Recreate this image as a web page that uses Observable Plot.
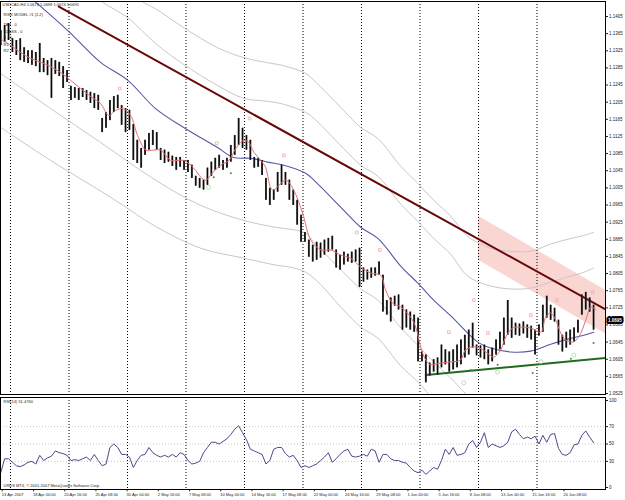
<!DOCTYPE html>
<html><head><meta charset="utf-8">
<script src="https://cdn.jsdelivr.net/npm/d3@7"></script>
<script src="https://cdn.jsdelivr.net/npm/@observablehq/plot@0.6"></script>
<style>
body{margin:0;background:#fff;}
#wrap{position:relative;width:625px;height:500px;overflow:hidden;background:#fff;}
#wrap svg{position:absolute;left:0;}
</style></head><body><div id="wrap"></div>
<script>
// ---------- data (bar index = one 8-hour step, 15 per week) ----------
const headerLine = "USDCAD,H4 1.0674 1.0698 1.0674 1.0695";
const modelLine = "RISK MODEL #1 (1,2)";
const legendLines = ["TAB - 0", "CLASS - 0", "S - 0", "R1 -", "R2 -"];
const rsiLabel = "RSI(14) 51.4760";
const copyright = "URDS MT4, \u00a9 2001-2007 MetaQuotes Software Corp.";
const lastClose = 1.0695;

const barHigh = [
1.1372,1.1384,1.1388,1.1353,1.1349,1.1353,1.1332,1.1325,1.1325,1.1321,
1.1342,1.1307,1.1302,1.1307,1.1302,1.1298,1.1288,1.1279,1.1242,1.1239,
1.1237,1.1237,1.1232,1.1228,1.1225,1.1221,1.1167,1.1181,1.1209,1.1218,
1.1221,1.1197,1.1190,1.1186,1.1153,1.1116,1.1097,1.1116,1.1132,1.1139,
1.1134,1.1097,1.1093,1.1088,1.1079,1.1076,1.1076,1.1069,1.1069,1.1058,
1.1032,1.1027,1.1023,1.1051,1.1065,1.1074,1.1081,1.1069,1.1074,1.1104,
1.1127,1.1167,1.1144,1.1127,1.1116,1.1076,1.1074,1.1069,1.1027,1.1004,
1.1000,1.1041,1.1058,1.1041,1.1023,1.1000,1.0976,1.0941,1.0901,1.0883,
1.0871,1.0878,1.0876,1.0883,1.0887,1.0892,1.0860,1.0848,1.0855,1.0850,
1.0855,1.0860,1.0864,1.0818,1.0813,1.0818,1.0818,1.0832,1.0801,1.0742,
1.0748,1.0752,1.0755,1.0731,1.0720,1.0715,1.0708,1.0701,1.0622,1.0615,
1.0596,1.0604,1.0608,1.0638,1.0627,1.0622,1.0627,1.0638,1.0650,1.0661,
1.0673,1.0689,1.0638,1.0636,1.0638,1.0627,1.0631,1.0650,1.0668,1.0701,
1.0742,1.0701,1.0689,1.0687,1.0692,1.0685,1.0682,1.0673,1.0685,1.0731,
1.0752,1.0731,1.0724,1.0696,1.0661,1.0668,1.0673,1.0678,1.0696,1.0755,
1.0761,1.0748,1.0731];
const barLow = [
1.1337,1.1344,1.1349,1.1321,1.1314,1.1302,1.1298,1.1295,1.1291,1.1288,
1.1274,1.1274,1.1267,1.1214,1.1270,1.1265,1.1237,1.1251,1.1209,1.1214,
1.1209,1.1216,1.1209,1.1202,1.1190,1.1186,1.1134,1.1144,1.1162,1.1181,
1.1190,1.1151,1.1134,1.1139,1.1069,1.1062,1.1051,1.1081,1.1093,1.1104,
1.1093,1.1069,1.1062,1.1065,1.1055,1.1046,1.1053,1.1046,1.1041,1.1027,
1.1009,1.1004,1.1000,1.1011,1.1032,1.1046,1.1051,1.1046,1.1051,1.1065,
1.1081,1.1104,1.1097,1.1093,1.1069,1.1051,1.1053,1.1034,1.0976,1.0964,
1.0976,1.0995,1.1011,1.1011,1.0976,1.0964,1.0918,1.0878,1.0878,1.0843,
1.0832,1.0836,1.0841,1.0848,1.0855,1.0860,1.0818,1.0813,1.0825,1.0832,
1.0829,1.0832,1.0773,1.0785,1.0790,1.0794,1.0799,1.0801,1.0715,1.0708,
1.0692,1.0729,1.0720,1.0673,1.0678,1.0673,1.0668,1.0599,1.0599,1.0550,
1.0566,1.0575,1.0568,1.0585,1.0592,1.0575,1.0580,1.0585,1.0592,1.0608,
1.0615,1.0631,1.0613,1.0608,1.0604,1.0592,1.0599,1.0615,1.0627,1.0638,
1.0661,1.0654,1.0661,1.0659,1.0664,1.0654,1.0650,1.0615,1.0659,1.0668,
1.0701,1.0696,1.0692,1.0638,1.0622,1.0631,1.0638,1.0645,1.0666,1.0708,
1.0720,1.0715,1.0673];

// moving averages: [bar index, price]
const fastMA = [[0,1.1353],[2.6,1.1337],[5.1,1.1321],[7.7,1.1307],[10.3,1.1298],[12.8,1.1288],[15.4,1.1274],[17.9,1.1256],[20.5,1.1237],[23.1,1.1218],[25.6,1.1202],[27.7,1.1174],[29.5,1.1186],[31.3,1.1190],[33.3,1.1174],[35.1,1.1127],[37.2,1.1093],[39,1.1093],[41,1.1093],[43.6,1.1069],[46.9,1.1069],[49.5,1.1051],[51.3,1.1030],[52.6,1.1023],[54.4,1.1041],[56.4,1.1058],[58.5,1.1069],[60.3,1.1097],[62.3,1.1116],[63.6,1.1111],[64.9,1.1088],[66.7,1.1069],[67.9,1.1053],[69.7,1.1000],[73.1,1.1023],[75.1,1.1000],[77.4,1.0946],[79.5,1.0883],[82.1,1.0860],[84.6,1.0860],[87.2,1.0848],[89.7,1.0841],[92.3,1.0820],[94.9,1.0806],[97.4,1.0801],[98.7,1.0766],[100.5,1.0736],[102.6,1.0727],[105.1,1.0703],[106.4,1.0680],[107.7,1.0633],[109,1.0603],[110.3,1.0592],[112.8,1.0596],[115.4,1.0599],[117.9,1.0603],[119.2,1.0627],[121.8,1.0634],[124.4,1.0622],[126.4,1.0610],[128.2,1.0627],[129.5,1.0657],[131.3,1.0678],[133.3,1.0680],[135.9,1.0678],[138.5,1.0668],[139.7,1.0703],[141,1.0713],[142.3,1.0696],[143.6,1.0666],[144.9,1.0650],[146.7,1.0645],[148.2,1.0657],[150,1.0696],[151.3,1.0727],[152.6,1.0720]];
const slowMA = [[0,1.1507],[8.5,1.1442],[17.2,1.1372],[25.6,1.1298],[32.6,1.1256],[39.7,1.1190],[46.9,1.1146],[55.6,1.1099],[59.7,1.1076],[64.1,1.1074],[68.5,1.1065],[72.6,1.1058],[78.2,1.1039],[80.3,1.1023],[87.9,1.0953],[92.3,1.0913],[96.7,1.0887],[102.6,1.0822],[106.9,1.0783],[111,1.0743],[115.4,1.0706],[122.3,1.0645],[125.6,1.0631],[130.8,1.0622],[135.9,1.0624],[141,1.0640],[145.4,1.0652],[149.5,1.0661],[152,1.0668]];
const upperInner = [[17.2,1.1517],[25.6,1.1442],[32.6,1.1402],[39.7,1.1342],[46.9,1.1293],[55.6,1.1244],[62.3,1.1214],[68.5,1.1207],[72.6,1.1200],[78.2,1.1181],[80.3,1.1167],[87.9,1.1097],[92.3,1.1058],[96.7,1.1032],[102.6,1.0967],[106.9,1.0927],[111,1.0887],[115.4,1.0850],[119.7,1.0799],[125.6,1.0776],[130.8,1.0769],[135.9,1.0771],[141,1.0785],[145.4,1.0797],[149.5,1.0808],[152,1.0818]];
const upperOuter = [[25.6,1.1531],[35.9,1.1442],[39.7,1.1423],[46.9,1.1379],[55.6,1.1332],[62.3,1.1309],[68.5,1.1297],[72.6,1.1290],[78.2,1.1272],[80.3,1.1256],[87.9,1.1186],[92.3,1.1146],[96.7,1.1120],[102.6,1.1055],[106.9,1.1016],[111,1.0976],[115.4,1.0939],[119.7,1.0892],[125.6,1.0864],[130.8,1.0857],[135.9,1.0857],[141,1.0874],[145.4,1.0885],[149.5,1.0894],[152,1.0901]];
const lowerInner = [[0,1.1272],[12.8,1.1190],[25.6,1.1111],[39.7,1.1023],[51.3,1.0964],[62.3,1.0929],[69.2,1.0915],[78.2,1.0899],[80.3,1.0878],[87.9,1.0808],[92.3,1.0769],[96.7,1.0743],[102.6,1.0678],[106.9,1.0638],[111,1.0599],[115.4,1.0561],[122.3,1.0501],[130.8,1.0477],[135.9,1.0480],[141,1.0496],[145.4,1.0508],[149.5,1.0517],[152,1.0524]];
const lowerOuter = [[0,1.1146],[12.8,1.1069],[28.2,1.0983],[39.7,1.0915],[51.3,1.0864],[62.3,1.0841],[69.2,1.0827],[78.2,1.0808],[87.9,1.0720],[92.3,1.0680],[96.7,1.0654],[102.6,1.0589],[107.2,1.0550],[111,1.0510],[115.4,1.0473]];

const resistanceLine = [[14.9,1.1428],[155.1,1.0721]];
const supportLine = [[109,1.0568],[155.1,1.0608]];
const channelBars = [122.5, 155.1];
const channelTop = [1.0939, 1.0766];
const channelBottom = [1.0836, 1.0664];

const pinkMarks = [[30.5,1.1237],[55.4,1.1109],[63.8,1.1167],[72.6,1.1081],[91.3,1.0901],[97.2,1.0860],[114.9,1.0668],[121.3,1.0743],[124.9,1.0666],[135.9,1.0708],[142.6,1.0743],[151.8,1.0762]];
const greenMarks = [[54.6,1.1030],[59,1.1039],[120.5,1.0580],[127.4,1.0592],[136.4,1.0573],[146.2,1.0606],[152,1.0643]];
const paleMarks = [[53.3,1.1006],[118.7,1.0550],[127.4,1.0575],[138.5,1.0599],[146.9,1.0615]];

const rsi = [17,33,33,29,25,24,26,29,30,27,37,31,34,36,42,40,39,37,31,32,
31,33,35,31,38,31,25,27,46,50,46,38,38,35,23,31,37,38,46,40,
37,35,37,35,38,35,40,38,31,27,28,30,40,46,52,52,50,53,56,61,
67,71,63,55,44,42,40,38,27,31,44,46,46,39,35,37,31,23,25,23,
25,27,31,35,40,29,33,38,42,44,36,35,36,38,36,44,42,29,38,38,
33,31,31,29,28,23,19,17,20,15,19,23,21,31,44,38,46,37,38,40,
50,54,46,52,63,46,50,48,46,48,52,64,67,61,56,58,56,59,50,60,
52,61,62,45,38,37,40,49,50,60,65,58,51.476];

const weekStarts = [2.5,17.5,32.5,47.5,62.5,77.5,92.5,107.5,122.5,137.5];
const timeLabels = ["13 Apr 2007","18 Apr 00:00","20 Apr 16:00","25 Apr 08:00","30 Apr 00:00","2 May 16:00","7 May 08:00","10 May 00:00","14 May 16:00","17 May 08:00","22 May 00:00","24 May 16:00","29 May 08:00","1 Jun 00:00","5 Jun 16:00","8 Jun 08:00","13 Jun 00:00","15 Jun 16:00","20 Jun 08:00"];
const timeLabelBars = [0.4,8.4,16.4,24.4,32.4,40.4,48.4,56.4,64.4,72.4,80.4,88.4,96.4,104.4,112.4,120.4,128.4,136.4,144.4];
const priceTicks = [1.0525,1.0565,1.0605,1.0645,1.0685,1.0725,1.0765,1.0805,1.0845,1.0885,1.0925,1.0965,1.1005,1.1045,1.1085,1.1125,1.1165,1.1205,1.1245,1.1285,1.1325,1.1365,1.1405];
const rsiTicks = [0,30,50,70,100];
const rsiLevels = [30,50,70];

// ---------- drawing ----------
const FONT = "'Liberation Sans', Arial, sans-serif";
const XDOM = [-0.06, 155.06];
const bars = barHigh.map((h, i) => ({i, hi: h, lo: barLow[i]}));
const P = d => d[0], V = d => d[1];
const channel = channelBars.map((x, k) => ({x, top: channelTop[k], bot: channelBottom[k]}));

const main = Plot.plot({
  width: 625, height: 396,
  marginLeft: 0, marginRight: 20, marginTop: 1, marginBottom: 2,
  style: {fontFamily: FONT, fontSize: "4.5px", color: "#222", background: "white", overflow: "visible"},
  x: {domain: XDOM, axis: null},
  y: {domain: [1.05227, 1.14400], axis: "right", ticks: priceTicks, tickFormat: d => d.toFixed(4), tickSize: 2, tickPadding: 1.5, label: null},
  marks: [
    Plot.areaY(channel, {x: "x", y1: "bot", y2: "top", fill: "#fad6d3", clip: true}),
    Plot.ruleX(weekStarts, {stroke: "#000", strokeDasharray: "1,2", strokeWidth: 1}),
    Plot.line(upperOuter, {x: P, y: V, stroke: "#c8c8c8", strokeWidth: 1, curve: "catmull-rom", clip: true}),
    Plot.line(upperInner, {x: P, y: V, stroke: "#c8c8c8", strokeWidth: 1, curve: "catmull-rom", clip: true}),
    Plot.line(lowerInner, {x: P, y: V, stroke: "#c8c8c8", strokeWidth: 1, curve: "catmull-rom", clip: true}),
    Plot.line(lowerOuter, {x: P, y: V, stroke: "#c8c8c8", strokeWidth: 1, curve: "catmull-rom", clip: true}),
    Plot.line(slowMA, {x: P, y: V, stroke: "#5858a8", strokeWidth: 1.1, curve: "catmull-rom", clip: true}),
    Plot.line(resistanceLine, {x: P, y: V, stroke: "#680808", strokeWidth: 2, clip: true}),
    Plot.line(supportLine, {x: P, y: V, stroke: "#1f6a1f", strokeWidth: 2, clip: true}),
    Plot.ruleX(bars, {x: "i", y1: "lo", y2: "hi", stroke: "#3a3a3a", strokeWidth: 1.9}),
    Plot.ruleX(bars, {x: "i", y1: "lo", y2: "hi", stroke: "#000", strokeWidth: 0.9}),
    Plot.line(fastMA, {x: P, y: V, stroke: "#e07070", strokeWidth: 1, curve: "catmull-rom", clip: true}),
    Plot.dot(pinkMarks, {x: P, y: V, r: 1.5, symbol: "square", stroke: "#f0a8a8", strokeWidth: 0.8, fill: "none"}),
    Plot.dot(paleMarks, {x: P, y: V, r: 2, stroke: "#a8d8a8", strokeWidth: 0.8, fill: "none"}),
    Plot.dot(greenMarks, {x: P, y: V, r: 1, fill: "#3d8f3d"}),
    Plot.frame({stroke: "#000"}),
    Plot.text([headerLine], {frameAnchor: "top-left", dx: 2, dy: 2, text: d => d, fontSize: 4, fill: "#222"}),
    Plot.text([modelLine], {frameAnchor: "top-left", dx: 3, dy: 12, text: d => d, fontSize: 4, fill: "#222"}),
    ...legendLines.map((s, k) => Plot.text([s], {frameAnchor: "top-left", dx: 3, dy: 22 + k * 6.5, text: d => d, fontSize: 4, fill: "#222"})),
    Plot.text([lastClose], {x: XDOM[1], y: d => d, text: d => d.toFixed(4), textAnchor: "start", dx: 2.5, fontSize: 4.5, fill: "white", stroke: "black", strokeWidth: 4, paintOrder: "stroke", fontWeight: "bold"})
  ]
});
main.style.top = "0px";

const rsiData = rsi.map((v, i) => ({i, v}));
const lower = Plot.plot({
  width: 625, height: 104,
  marginLeft: 0, marginRight: 20, marginTop: 1, marginBottom: 11,
  style: {fontFamily: FONT, fontSize: "4.5px", color: "#222", background: "white", overflow: "visible"},
  x: {domain: XDOM, axis: null},
  y: {domain: [-2.3, 103.45], axis: "right", ticks: rsiTicks, tickSize: 2, tickPadding: 1.5, label: null},
  marks: [
    Plot.ruleY(rsiLevels, {stroke: "#c8c8c8", strokeDasharray: "1,2"}),
    Plot.ruleX(weekStarts, {stroke: "#000", strokeDasharray: "1,2", strokeWidth: 1}),
    Plot.line(rsiData, {x: "i", y: "v", stroke: "#4a4a8c", strokeWidth: 1}),
    Plot.frame({stroke: "#000"}),
    Plot.ruleX(timeLabelBars, {y1: -2.3, y2: -5, stroke: "#000", strokeWidth: 0.8}),
    Plot.text(timeLabels, {x: (d, k) => timeLabelBars[k], y: -8.4, text: d => d, textAnchor: "start", dx: -0.5, fontSize: 4, fill: "#222"}),
    Plot.text([rsiLabel], {frameAnchor: "top-left", dx: 3, dy: 3, text: d => d, fontSize: 4, fill: "#222"}),
    Plot.text([copyright], {frameAnchor: "bottom-left", dx: 3, dy: -3, text: d => d, fontSize: 4, fill: "#222"})
  ]
});
lower.style.top = "396px";

const wrap = document.getElementById("wrap");
wrap.appendChild(main);
wrap.appendChild(lower);
</script>
</body></html>
